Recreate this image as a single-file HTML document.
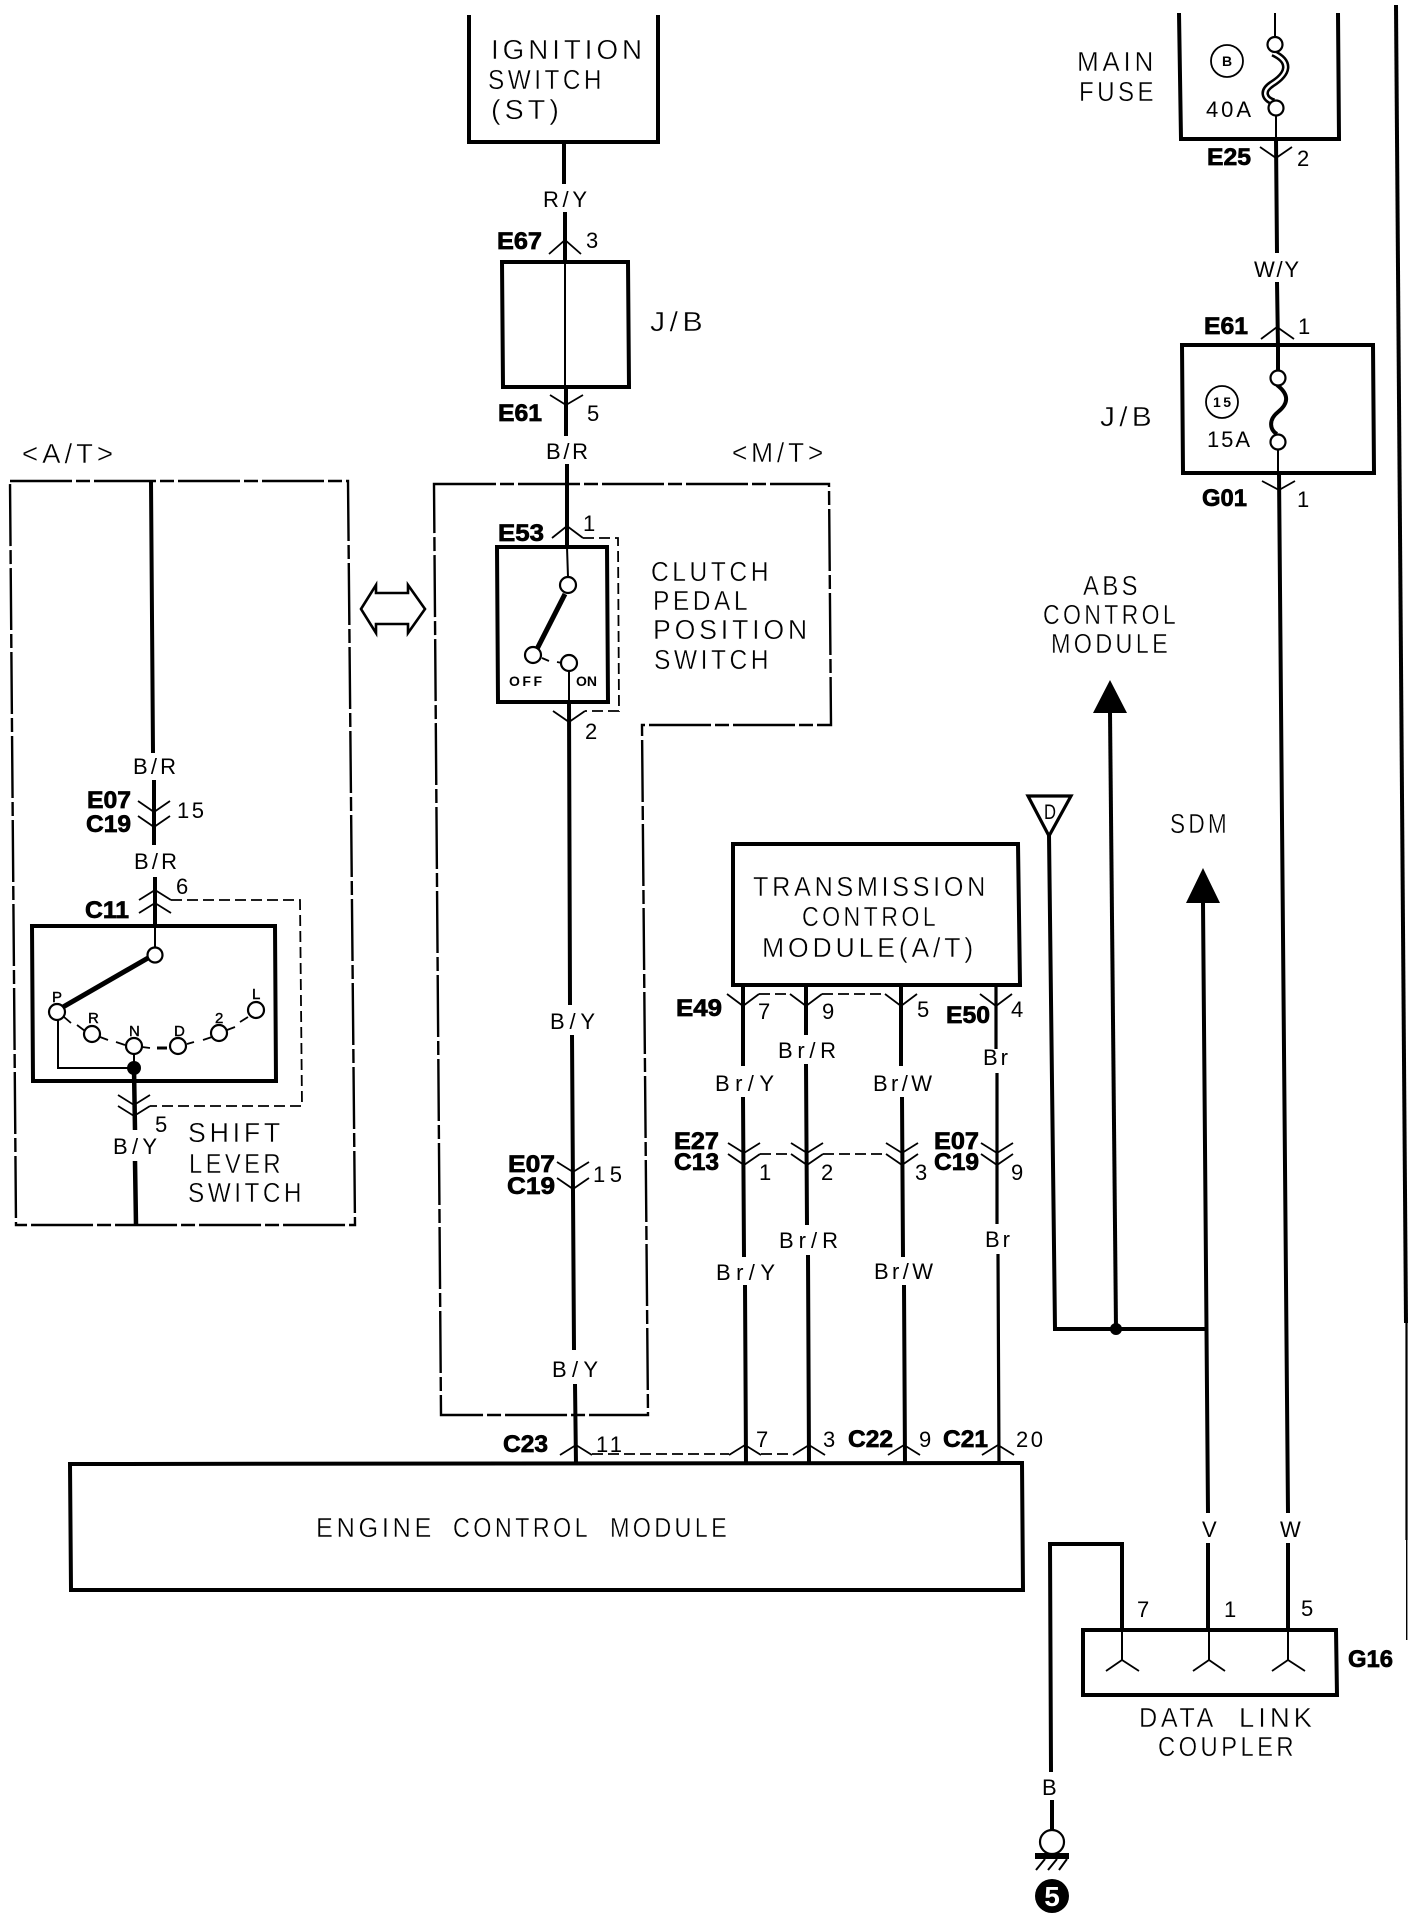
<!DOCTYPE html>
<html><head><meta charset="utf-8"><title>Wiring diagram</title>
<style>
html,body{margin:0;padding:0;background:#fff;width:1424px;height:1920px;overflow:hidden}
svg{display:block}
text{font-family:"Liberation Sans",sans-serif;fill:#000}
.t{font-size:28px;stroke:#fff;stroke-width:.4px;letter-spacing:4px}
.s{font-size:22px}
.b{font-size:24px;font-weight:bold;stroke:#000;stroke-width:.7px}
.m{font-size:15px;stroke:#000;stroke-width:.4px}
.w{fill:none;stroke:#000;stroke-width:4}
.n{fill:none;stroke:#000;stroke-width:2}
.h{fill:none;stroke:#000;stroke-width:1.8}
.dd{fill:none;stroke:#000;stroke-width:2.4;stroke-dasharray:62 4 14 4}
.d{fill:none;stroke:#000;stroke-width:1.8;stroke-dasharray:11 5}
.c{fill:#fff;stroke:#000;stroke-width:2.2}
</style></head><body>
<svg xmlns="http://www.w3.org/2000/svg" width="1424" height="1920" viewBox="0 0 1424 1920">
<rect width="1424" height="1920" fill="#fff"/>

<!-- right border -->
<polygon points="1394,5 1398,5 1408,1323 1404,1323" fill="#000"/>
<rect x="1405.4" y="1323" width="2.2" height="217" fill="#000"/>
<rect x="1406" y="1540" width="1.4" height="100" fill="#000"/>

<!-- A/T box -->
<path class="dd" d="M10,481 L348,481 L355,1225 L16,1225 Z"/>
<text class="t" x="22" y="463" textLength="95" lengthAdjust="spacingAndGlyphs">&lt;A/T&gt;</text>
<path class="w" d="M151,481 L153,753 M154,780 L154,845 M155,877 L155,926"/>
<text class="s" x="133" y="774" textLength="43">B/R</text>
<path class="h" d="M138,801 L154,812 L170,801 M138,816 L154,827 L170,816"/>
<text class="b" x="87" y="808" textLength="44" lengthAdjust="spacingAndGlyphs">E07</text>
<text class="b" x="86" y="832" textLength="45" lengthAdjust="spacingAndGlyphs">C19</text>
<text class="s" x="177" y="818" textLength="27">15</text>
<text class="s" x="134" y="869" textLength="43">B/R</text>
<path class="h" d="M139,900 L155,890 L171,900 M139,913 L155,903 L171,913"/>
<text class="b" x="85" y="918" textLength="44" lengthAdjust="spacingAndGlyphs">C11</text>
<text class="s" x="176" y="894">6</text>
<path class="d" d="M171,900 L300,900 L302,1106 L150,1106"/>
<path class="w" d="M32,926 L275,926 L276,1081 L33,1081 Z"/>
<path class="n" d="M155,926 L155,947"/>
<path d="M148,958 L63,1007" stroke="#000" stroke-width="5" fill="none"/>
<path class="h" d="M64,1017 L71,1023 M77,1025 L85,1031 M100,1037 L108,1040 M116,1042 L125,1045 M142,1047 L150,1048 M187,1044 L194,1042 M203,1040 L212,1037 M227,1030 L235,1027 M240,1022 L248,1017"/>
<path d="M157,1048 L167,1048" stroke="#000" stroke-width="3" fill="none"/>
<path class="n" d="M58,1019 L58,1068 L134,1068 M134,1054 L134,1068"/>
<circle class="c" cx="155" cy="955" r="7.5"/>
<circle class="c" cx="57" cy="1012" r="8"/>
<circle class="c" cx="92" cy="1034" r="8"/>
<circle class="c" cx="134" cy="1046" r="8"/>
<circle class="c" cx="178" cy="1046" r="8"/>
<circle class="c" cx="219" cy="1033" r="8"/>
<circle class="c" cx="256" cy="1010" r="8"/>
<text class="m" x="52" y="1002">P</text><text class="m" x="88" y="1023">R</text><text class="m" x="129" y="1036">N</text><text class="m" x="174" y="1036">D</text><text class="m" x="215" y="1023">2</text><text class="m" x="252" y="999">L</text>
<circle cx="134" cy="1068" r="7" fill="#000"/>
<path class="w" d="M134,1068 L135,1130 M135,1161 L136,1225" style="stroke-width:4.5"/>
<path class="h" d="M118,1095 L134,1105 L150,1095 M118,1106 L134,1116 L150,1106"/>
<text class="s" x="155" y="1132">5</text>
<text class="s" x="113" y="1154" textLength="44">B/Y</text>
<text class="t" x="188" y="1142" textLength="96" lengthAdjust="spacingAndGlyphs">SHIFT</text>
<text class="t" x="189" y="1173" textLength="95" lengthAdjust="spacingAndGlyphs">LEVER</text>
<text class="t" x="188" y="1202" textLength="117" lengthAdjust="spacingAndGlyphs">SWITCH</text>

<!-- double arrow -->
<path class="n" style="stroke-width:2.6" d="M361,609 L376,585 L376,593 L408,593 L408,585 L425,609 L408,633 L408,624 L376,624 L376,633 Z"/>

<!-- Ignition -->
<path class="w" d="M469,15 L469,142 L658,142 L658,15"/>
<text class="t" x="491" y="59" textLength="155" lengthAdjust="spacingAndGlyphs">IGNITION</text>
<text class="t" x="488" y="89" textLength="117" lengthAdjust="spacingAndGlyphs">SWITCH</text>
<text class="t" x="491" y="119" textLength="72" lengthAdjust="spacingAndGlyphs">(ST)</text>
<path class="w" d="M564,142 L564,184 M565,212 L565,262"/>
<text class="s" x="543" y="207" textLength="44">R/Y</text>
<path class="h" d="M549,254 L565,240 L581,254"/>
<text class="b" x="497" y="249" textLength="45" lengthAdjust="spacingAndGlyphs">E67</text>
<text class="s" x="586" y="248">3</text>
<path class="w" d="M502,262 L628,262 L629,387 L503,387 Z"/>
<path class="n" d="M565,262 L565,387"/>
<text class="t" x="650" y="331" textLength="57" lengthAdjust="spacingAndGlyphs">J/B</text>
<path class="h" d="M550,395 L566,405 L583,395"/>
<path class="w" d="M566,387 L566,436 M567,464 L567,548"/>
<text class="b" x="498" y="421" textLength="44" lengthAdjust="spacingAndGlyphs">E61</text>
<text class="s" x="587" y="421">5</text>
<text class="s" x="546" y="459" textLength="42">B/R</text>

<!-- M/T box -->
<path class="dd" d="M434,484 L829,484 L831,725 L642,725 L648,1415 L441,1415 Z"/>
<text class="t" x="732" y="462" textLength="95" lengthAdjust="spacingAndGlyphs">&lt;M/T&gt;</text>
<text class="b" x="498" y="541" textLength="46" lengthAdjust="spacingAndGlyphs">E53</text>
<text class="s" x="583" y="531">1</text>
<path class="h" d="M552,538 L567,526 L583,538"/>
<path class="d" d="M583,538 L618,538 L619,711 L585,711"/>
<path class="h" d="M553,711 L569,722 L585,711"/>
<path class="w" d="M497,547 L607,547 L608,702 L498,702 Z"/>
<path class="n" d="M567,547 L568,577 M569,671 L569,702"/>
<path d="M565,594 L537,649" stroke="#000" stroke-width="5" fill="none"/>
<path class="h" d="M542,658 L549,661 M557,662 L562,663"/>
<circle class="c" cx="568" cy="585" r="8"/>
<circle class="c" cx="533" cy="655" r="8"/>
<circle class="c" cx="569" cy="663" r="8"/>
<text x="509" y="686" font-size="14" font-weight="bold" textLength="33">OFF</text>
<text x="576" y="686" font-size="14" font-weight="bold" textLength="21">ON</text>
<text class="s" x="585" y="739">2</text>
<text class="t" x="651" y="581" textLength="121" lengthAdjust="spacingAndGlyphs">CLUTCH</text>
<text class="t" x="653" y="610" textLength="98" lengthAdjust="spacingAndGlyphs">PEDAL</text>
<text class="t" x="653" y="639" textLength="158" lengthAdjust="spacingAndGlyphs">POSITION</text>
<text class="t" x="654" y="669" textLength="118" lengthAdjust="spacingAndGlyphs">SWITCH</text>

<path class="w" d="M569,702 L570,1005 M572,1035 L574,1350 M575,1384 L576,1464"/>
<text class="s" x="550" y="1029" textLength="45">B/Y</text>
<text class="s" x="552" y="1377" textLength="46">B/Y</text>
<text class="b" x="508" y="1172" textLength="47" lengthAdjust="spacingAndGlyphs">E07</text>
<text class="b" x="507" y="1194" textLength="48" lengthAdjust="spacingAndGlyphs">C19</text>
<text class="s" x="593" y="1182" textLength="29">15</text>
<path class="h" d="M557,1162 L573,1172 L589,1162 M557,1178 L573,1189 L589,1178"/>

<!-- TCM -->
<path class="w" d="M733,844 L1018,844 L1020,985 L733,985 Z"/>
<text class="t" x="753" y="896" textLength="236" lengthAdjust="spacingAndGlyphs">TRANSMISSION</text>
<text class="t" x="802" y="926" textLength="137" lengthAdjust="spacingAndGlyphs">CONTROL</text>
<text class="t" x="762" y="957" textLength="215" lengthAdjust="spacingAndGlyphs">MODULE(A/T)</text>
<path class="w" d="M743,985 L743,1066 M743,1097 L744,1257 M745,1285 L746,1464"/>
<path class="w" d="M806,985 L806,1035 M806,1064 L807,1225 M808,1255 L809,1464"/>
<path class="w" d="M901,985 L901,1066 M902,1097 L903,1257 M904,1285 L905,1464"/>
<path class="w" style="stroke-width:3.2" d="M996,985 L996,1049 M997,1073 L997,1224 M998,1254 L999,1464"/>
<text class="s" x="715" y="1091" textLength="59">Br/Y</text>
<text class="s" x="716" y="1280" textLength="59">Br/Y</text>
<text class="s" x="778" y="1058" textLength="58">Br/R</text>
<text class="s" x="779" y="1248" textLength="59">Br/R</text>
<text class="s" x="873" y="1091" textLength="59">Br/W</text>
<text class="s" x="874" y="1279" textLength="59">Br/W</text>
<text class="s" x="983" y="1065" textLength="25">Br</text>
<text class="s" x="985" y="1247" textLength="25">Br</text>
<path class="h" d="M727,994 L743,1006 L759,994 M790,994 L806,1006 L822,994 M885,994 L901,1006 L917,994 M980,994 L996,1006 L1012,994"/>
<path class="d" d="M759,994 L790,994 M822,994 L885,994"/>
<text class="b" x="676" y="1016" textLength="46" lengthAdjust="spacingAndGlyphs">E49</text>
<text class="s" x="758" y="1019">7</text>
<text class="s" x="822" y="1019">9</text>
<text class="s" x="917" y="1017">5</text>
<text class="b" x="946" y="1023" textLength="44" lengthAdjust="spacingAndGlyphs">E50</text>
<text class="s" x="1011" y="1017">4</text>
<path class="h" d="M728,1143 L744,1153 L760,1143 M728,1154 L744,1165 L760,1154 M791,1143 L807,1153 L823,1143 M791,1154 L807,1165 L823,1154 M886,1143 L902,1153 L918,1143 M886,1154 L902,1165 L918,1154 M981,1143 L997,1153 L1013,1143 M981,1154 L997,1165 L1013,1154"/>
<path class="d" d="M760,1154 L791,1154 M823,1154 L886,1154"/>
<text class="b" x="674" y="1149" textLength="45" lengthAdjust="spacingAndGlyphs">E27</text>
<text class="b" x="674" y="1170" textLength="45" lengthAdjust="spacingAndGlyphs">C13</text>
<text class="s" x="759" y="1180">1</text>
<text class="s" x="821" y="1180">2</text>
<text class="s" x="915" y="1180">3</text>
<text class="b" x="934" y="1149" textLength="45" lengthAdjust="spacingAndGlyphs">E07</text>
<text class="b" x="934" y="1170" textLength="45" lengthAdjust="spacingAndGlyphs">C19</text>
<text class="s" x="1011" y="1180">9</text>

<!-- ECM -->
<path class="h" d="M560,1455 L576,1445 L592,1455 M729,1455 L745,1445 L761,1455 M793,1455 L809,1445 L825,1455 M888,1455 L904,1445 L920,1455 M982,1455 L998,1445 L1014,1455"/>
<path class="d" d="M592,1454 L729,1454 M761,1454 L793,1454"/>
<text class="b" x="503" y="1452" textLength="45" lengthAdjust="spacingAndGlyphs">C23</text>
<text class="s" x="596" y="1452" textLength="26">11</text>
<text class="s" x="756" y="1447">7</text>
<text class="s" x="823" y="1447">3</text>
<text class="b" x="848" y="1447" textLength="45" lengthAdjust="spacingAndGlyphs">C22</text>
<text class="s" x="919" y="1447">9</text>
<text class="b" x="943" y="1447" textLength="45" lengthAdjust="spacingAndGlyphs">C21</text>
<text class="s" x="1016" y="1447" textLength="27">20</text>
<path class="w" d="M70,1464 L1022,1463 L1023,1590 L71,1590 Z"/>
<text class="t" x="316" y="1537" textLength="119" lengthAdjust="spacingAndGlyphs">ENGINE</text>
<text class="t" x="453" y="1537" textLength="138" lengthAdjust="spacingAndGlyphs">CONTROL</text>
<text class="t" x="610" y="1537" textLength="120" lengthAdjust="spacingAndGlyphs">MODULE</text>

<!-- Main fuse -->
<path class="w" d="M1179,13 L1181,139 L1339,139 L1338,13"/>
<path class="n" d="M1275,13 L1275,39 M1276,116 L1276,139"/>
<path d="M1273,53 C1292,62 1288,74 1272,84 C1260,92 1266,100 1274,102" fill="none" stroke="#000" stroke-width="7.5"/>
<path d="M1273,53 C1292,62 1288,74 1272,84 C1260,92 1266,100 1274,102" fill="none" stroke="#fff" stroke-width="2.4"/>
<circle class="c" cx="1275" cy="44.5" r="7.5"/>
<circle class="c" cx="1276" cy="108" r="7.5"/>
<circle class="h" cx="1227" cy="61" r="16"/>
<text x="1222" y="66" font-size="14" font-weight="bold">B</text>
<text class="s" x="1206" y="117" textLength="45">40A</text>
<text class="t" x="1077" y="71" textLength="80" lengthAdjust="spacingAndGlyphs">MAIN</text>
<text class="t" x="1079" y="101" textLength="78" lengthAdjust="spacingAndGlyphs">FUSE</text>
<path class="w" d="M1276,139 L1277,253 M1277,282 L1278,347"/>
<path class="h" d="M1260,147 L1276,158 L1292,147"/>
<text class="b" x="1207" y="165" textLength="44" lengthAdjust="spacingAndGlyphs">E25</text>
<text class="s" x="1297" y="166">2</text>
<text class="s" x="1254" y="277" textLength="45">W/Y</text>
<path class="h" d="M1261,339 L1277,327 L1294,339"/>
<text class="b" x="1204" y="334" textLength="44" lengthAdjust="spacingAndGlyphs">E61</text>
<text class="s" x="1298" y="334">1</text>

<!-- J/B right -->
<path class="w" d="M1182,345 L1373,345 L1374,473 L1183,473 Z"/>
<text class="t" x="1100" y="426" textLength="56" lengthAdjust="spacingAndGlyphs">J/B</text>
<path class="w" d="M1278,345 L1278,370"/>
<path d="M1277,385 C1290,395 1288,404 1278,412 C1268,420 1270,430 1277,434" fill="none" stroke="#000" stroke-width="4"/>
<circle class="c" cx="1278" cy="378" r="7.5"/>
<circle class="c" cx="1278" cy="442" r="7.5"/>
<circle class="h" cx="1222" cy="402" r="16"/>
<text x="1213" y="407" font-size="14" font-weight="bold" textLength="18">15</text>
<text class="s" x="1207" y="447" textLength="43">15A</text>
<path class="n" d="M1278,450 L1278,473"/>
<path class="w" d="M1279,473 L1288,1513 M1288,1543 L1288,1630"/>
<path class="h" d="M1262,481 L1279,490 L1295,481"/>
<text class="b" x="1202" y="506" textLength="45" lengthAdjust="spacingAndGlyphs">G01</text>
<text class="s" x="1297" y="507">1</text>

<!-- ABS / SDM -->
<text class="t" x="1083" y="595" textLength="58" lengthAdjust="spacingAndGlyphs">ABS</text>
<text class="t" x="1043" y="624" textLength="136" lengthAdjust="spacingAndGlyphs">CONTROL</text>
<text class="t" x="1051" y="653" textLength="120" lengthAdjust="spacingAndGlyphs">MODULE</text>
<path d="M1110,680 L1127,713 L1093,713 Z" fill="#000"/>
<text class="t" x="1170" y="833" textLength="60" lengthAdjust="spacingAndGlyphs">SDM</text>
<path d="M1203,868 L1220,903 L1186,903 Z" fill="#000"/>
<path class="w" d="M1110,712 L1116,1329"/>
<path class="w" d="M1203,903 L1208,1513 M1208,1543 L1208,1630"/>
<path class="w" d="M1049,835 L1055,1329 L1207,1329"/>
<path d="M1028,796 L1071,796 L1049,836 Z" fill="#fff" stroke="#000" stroke-width="3.2"/>
<text x="1044" y="819" font-size="21" textLength="12" lengthAdjust="spacingAndGlyphs">D</text>
<circle cx="1116" cy="1329" r="6" fill="#000"/>
<text class="s" x="1202" y="1537">V</text>
<text class="s" x="1280" y="1537">W</text>

<!-- DLC -->
<path class="w" d="M1083,1630 L1336,1630 L1337,1695 L1083,1695 Z"/>
<path class="w" d="M1051,1772 L1050,1544 L1122,1544 L1122,1630"/>
<path class="n" d="M1122,1630 L1122,1660 M1209,1630 L1209,1660 M1288,1630 L1288,1660"/>
<path class="h" d="M1106,1671 L1122,1660 L1139,1671 M1193,1671 L1209,1660 L1225,1671 M1272,1671 L1288,1660 L1305,1671"/>
<text class="s" x="1137" y="1617">7</text>
<text class="s" x="1224" y="1617">1</text>
<text class="s" x="1301" y="1616">5</text>
<text class="b" x="1348" y="1667" textLength="45" lengthAdjust="spacingAndGlyphs">G16</text>
<text class="t" x="1139" y="1727" textLength="78" lengthAdjust="spacingAndGlyphs">DATA</text>
<text class="t" x="1239" y="1727" textLength="77" lengthAdjust="spacingAndGlyphs">LINK</text>
<text class="t" x="1158" y="1756" textLength="139" lengthAdjust="spacingAndGlyphs">COUPLER</text>
<text class="s" x="1042" y="1795">B</text>
<path class="w" d="M1052,1800 L1052,1830"/>
<circle class="c" cx="1052" cy="1842" r="12"/>
<rect x="1035" y="1853" width="34" height="6" fill="#000"/>
<path class="n" d="M1045,1859 L1036,1870 M1057,1859 L1048,1870 M1067,1859 L1059,1870"/>
<circle cx="1052" cy="1896" r="17" fill="#000"/>
<text x="1052" y="1906" font-size="28" font-weight="bold" text-anchor="middle" style="fill:#fff">5</text>
</svg>
</body></html>
